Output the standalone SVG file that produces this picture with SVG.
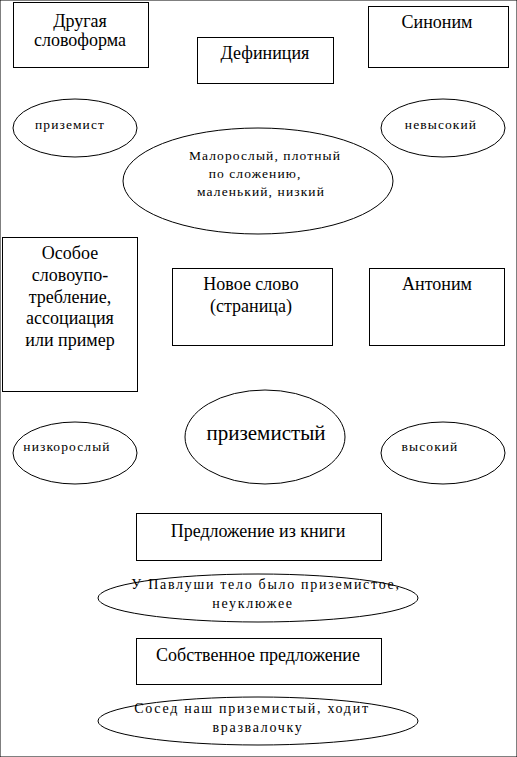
<svg xmlns="http://www.w3.org/2000/svg" width="517" height="757" viewBox="0 0 517 757">
<style>
rect, ellipse { fill: #fff; stroke: #000; stroke-width: 1; }
text { font-family: 'Liberation Serif', 'Times New Roman', serif; fill: #000; text-anchor: middle; }
.b { font-size: 18px; }
.s { font-size: 13.5px; letter-spacing: 1.1px; }
.m { font-size: 14px; letter-spacing: 1.7px; }
.big { font-size: 21px; }
</style>
<rect width="517" height="757" fill="#fff" stroke="none"/>
<g id="connectors"></g>
<g id="drugaya"><rect x="13.5" y="2.5" width="135" height="65"/><text class="b" x="80" y="27">Другая</text><text class="b" x="80" y="46">словоформа</text></g>
<g id="definitsiya"><rect x="197.5" y="37.5" width="136" height="46"/><text class="b" x="265" y="59">Дефиниция</text></g>
<g id="sinonim"><rect x="368.5" y="6.5" width="140" height="61"/><text class="b" x="437" y="28">Синоним</text></g>
<g id="prizemist"><ellipse cx="75" cy="128" rx="62" ry="29"/><text class="s" x="70" y="129">приземист</text></g>
<g id="nevysokiy"><ellipse cx="443" cy="128" rx="62" ry="29"/><text class="s" x="441" y="129">невысокий</text></g>
<g id="definition-text"><ellipse cx="258" cy="181" rx="135" ry="53"/><text class="s" x="265" y="160">Малорослый, плотный</text><text class="s" x="255" y="178">по сложению,</text><text class="s" x="261" y="196">маленький, низкий</text></g>
<g id="osoboe"><rect x="2.5" y="237.5" width="135" height="154"/><text class="b" x="70" y="259">Особое</text><text class="b" x="70" y="281">словоупо-</text><text class="b" x="70" y="303">требление,</text><text class="b" x="70" y="324">ассоциация</text><text class="b" x="70" y="346">или пример</text></g>
<g id="novoe"><rect x="172.5" y="268.5" width="160" height="77"/><text class="b" x="251" y="290">Новое слово</text><text class="b" x="251" y="312">(страница)</text></g>
<g id="antonim"><rect x="369.5" y="268.5" width="135" height="77"/><text class="b" x="437" y="290">Антоним</text></g>
<g id="prizemistyi"><ellipse cx="265" cy="437" rx="80" ry="47"/><text class="big" x="266" y="440">приземистый</text></g>
<g id="nizkoroslyi"><ellipse cx="75" cy="453" rx="62" ry="31"/><text class="s" x="67" y="451">низкорослый</text></g>
<g id="vysokiy"><ellipse cx="443" cy="453" rx="62" ry="31"/><text class="s" x="430" y="451">высокий</text></g>
<g id="predl-kniga"><rect x="136.5" y="513.5" width="245" height="47"/><text class="b" x="258" y="537">Предложение из книги</text></g>
<g id="predl-kniga-text"><ellipse cx="258" cy="598" rx="160" ry="24"/><text class="m" x="266" y="589">У Павлуши тело было приземистое,</text><text class="m" x="253" y="608">неуклюжее</text></g>
<g id="sobstv"><rect x="136.5" y="638.5" width="245" height="46"/><text class="b" x="258" y="661">Собственное предложение</text></g>
<g id="sobstv-text"><ellipse cx="258" cy="721" rx="160" ry="24"/><text class="m" x="252" y="713">Сосед наш приземистый, ходит</text><text class="m" x="258" y="732">вразвалочку</text></g>
</svg>
